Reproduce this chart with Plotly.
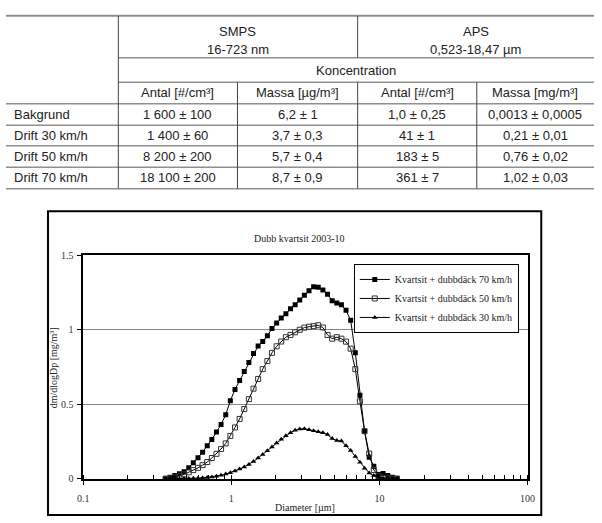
import plotly.graph_objects as go

# ---- table data ----
row_labels = ["Bakgrund", "Drift 30 km/h", "Drift 50 km/h", "Drift 70 km/h"]
instruments = ["SMPS<br>16-723 nm", "APS<br>0,523-18,47 µm"]
group_label = "Koncentration"
col_labels = ["Antal [#/cm³]", "Massa [µg/m³]", "Antal [#/cm³]", "Massa [mg/m³]"]
table_values = [
    ["1 600 ± 100", "6,2 ± 1", "1,0 ± 0,25", "0,0013 ± 0,0005"],
    ["1 400 ± 60", "3,7 ± 0,3", "41 ± 1", "0,21 ± 0,01"],
    ["8 200 ± 200", "5,7 ± 0,4", "183 ± 5", "0,76 ± 0,02"],
    ["18 100 ± 200", "8,7 ± 0,9", "361 ± 7", "1,02 ± 0,03"],
]

# ---- chart data ----
diameter = [0.360, 0.387, 0.416, 0.447, 0.480, 0.516, 0.554, 0.596, 0.640, 0.688,
            0.739, 0.794, 0.853, 0.917, 0.985, 1.059, 1.138, 1.223, 1.314, 1.412,
            1.517, 1.630, 1.752, 1.882, 2.023, 2.173, 2.336, 2.510, 2.697, 2.898,
            3.114, 3.347, 3.596, 3.864, 4.153, 4.462, 4.795, 5.153, 5.537, 5.950,
            6.394, 6.871, 7.383, 7.934, 8.526, 9.162, 9.845, 10.58, 11.37, 12.21, 13.13]
kv_70 = [0.005, 0.011, 0.022, 0.035, 0.048, 0.074, 0.109, 0.142, 0.179, 0.223,
         0.264, 0.314, 0.365, 0.43, 0.524, 0.60, 0.659, 0.72, 0.781, 0.84,
         0.891, 0.921, 0.96, 1.008, 1.045, 1.078, 1.107, 1.14, 1.168, 1.2,
         1.232, 1.262, 1.288, 1.285, 1.266, 1.238, 1.195, 1.18, 1.167, 1.13,
         1.063, 0.845, 0.56, 0.32, 0.145, 0.085, 0.03, 0.037, 0.022, 0.011, 0.005]
kv_50 = [0.0, 0.005, 0.011, 0.02, 0.03, 0.044, 0.059, 0.074, 0.092, 0.113,
         0.14, 0.168, 0.2, 0.238, 0.288, 0.345, 0.402, 0.468, 0.535, 0.605,
         0.67, 0.736, 0.79, 0.845, 0.889, 0.921, 0.95, 0.965, 0.983, 1.0,
         1.014, 1.02, 1.024, 1.03, 1.015, 0.965, 0.94, 0.95, 0.94, 0.92,
         0.873, 0.736, 0.52, 0.32, 0.17, 0.06, 0.02, 0.008, 0.004, 0.002, 0.001]
kv_30 = [0.0, 0.0, 0.001, 0.001, 0.002, 0.003, 0.004, 0.005, 0.007, 0.01,
         0.013, 0.018, 0.024, 0.032, 0.042, 0.053, 0.066, 0.08, 0.097, 0.117,
         0.14, 0.163, 0.188, 0.214, 0.24, 0.265, 0.29, 0.31, 0.326, 0.335,
         0.336, 0.33, 0.322, 0.316, 0.31, 0.298, 0.27, 0.258, 0.254, 0.222,
         0.19, 0.15, 0.112, 0.072, 0.04, 0.022, 0.011, 0.005, 0.002, 0.001, 0.0]

W, H = 602, 523


def px(x):
    return x / W


def py(y):
    return 1 - y / H


fig = go.Figure()

serif = "Liberation Serif"
sans = "Liberation Sans"

fig.add_trace(go.Scatter(x=diameter, y=kv_70, mode="lines+markers", name="Kvartsit + dubbdäck 70 km/h",
                         line=dict(color="black", width=1),
                         marker=dict(symbol="square", size=5, color="black")))
fig.add_trace(go.Scatter(x=diameter, y=kv_50, mode="lines+markers", name="Kvartsit + dubbdäck 50 km/h",
                         line=dict(color="black", width=1),
                         marker=dict(symbol="square-open", size=5, color="#333333")))
fig.add_trace(go.Scatter(x=diameter, y=kv_30, mode="lines+markers", name="Kvartsit + dubbdäck 30 km/h",
                         line=dict(color="black", width=1),
                         marker=dict(symbol="triangle-up", size=5, color="black")))

# ---- table grid ----
col_x = [0, 115, 237, 360, 482, 602]
row_y = [10, 53, 78, 100, 122, 143, 165, 187]
hcol = "#8f8f8f"
vcol = "#444444"
shapes = []
shapes.append(dict(type="line", xref="paper", yref="paper", x0=px(0), x1=px(W), y0=py(row_y[0]), y1=py(row_y[0]),
                   line=dict(color=hcol, width=2)))
for yy in row_y[1:3]:
    shapes.append(dict(type="line", xref="paper", yref="paper", x0=px(col_x[1]), x1=px(W), y0=py(yy), y1=py(yy),
                       line=dict(color=hcol, width=1.5)))
for yy in row_y[3:]:
    shapes.append(dict(type="line", xref="paper", yref="paper", x0=px(0), x1=px(W), y0=py(yy), y1=py(yy),
                       line=dict(color=hcol, width=1.5)))
shapes.append(dict(type="line", xref="paper", yref="paper", x0=px(col_x[1]), x1=px(col_x[1]),
                   y0=py(row_y[0]), y1=py(row_y[-1]), line=dict(color=vcol, width=1)))
shapes.append(dict(type="line", xref="paper", yref="paper", x0=px(col_x[3]), x1=px(col_x[3]),
                   y0=py(row_y[0]), y1=py(row_y[1]), line=dict(color=vcol, width=1)))
for xx in col_x[2:5]:
    shapes.append(dict(type="line", xref="paper", yref="paper", x0=px(xx), x1=px(xx),
                       y0=py(row_y[2]), y1=py(row_y[-1]), line=dict(color=vcol, width=1)))

# chart outer frame
shapes.append(dict(type="rect", xref="paper", yref="paper", x0=px(43), x1=px(548), y0=py(210), y1=py(521),
                   line=dict(color="black", width=2)))

ann = []
tfont = dict(family=sans, size=13, color="#222222")


def cell(x, y, text, anchor="center"):
    ann.append(dict(x=px(x), y=py(y), xref="paper", yref="paper", text=text, showarrow=False,
                    xanchor=anchor, yanchor="middle", font=tfont))


for i, name in enumerate(instruments):
    top, sub = name.split("<br>")
    xc = (col_x[1 + 2 * i] + col_x[3 + 2 * i]) / 2
    cell(xc, 26, top)
    cell(xc, 45, sub)
cell((col_x[1] + col_x[5]) / 2, 66, group_label)
for j, lab in enumerate(col_labels):
    cell((col_x[j + 1] + col_x[j + 2]) / 2, 89, lab)
for r, lab in enumerate(row_labels):
    yc = (row_y[r + 3] + row_y[r + 4]) / 2
    cell(6, yc, lab, anchor="left")
    for j, v in enumerate(table_values[r]):
        cell((col_x[j + 1] + col_x[j + 2]) / 2, yc, v)

cfont = dict(family=serif, size=10, color="#222222")
ann.append(dict(x=px(300), y=py(238), xref="paper", yref="paper", text="Dubb kvartsit 2003-10",
                showarrow=False, xanchor="center", yanchor="middle", font=cfont))
ann.append(dict(x=px(306), y=py(513), xref="paper", yref="paper", text="Diameter [µm]",
                showarrow=False, xanchor="center", yanchor="middle", font=cfont))
ann.append(dict(x=px(49), y=py(370), xref="paper", yref="paper", text="dm/dlogDp [mg/m³]",
                showarrow=False, xanchor="center", yanchor="middle", textangle=-90, font=cfont))

fig.update_layout(
    width=W, height=H,
    margin=dict(l=0, r=0, t=0, b=0),
    paper_bgcolor="white", plot_bgcolor="white",
    shapes=shapes, annotations=ann,
    showlegend=True,
    legend=dict(x=px(525), y=py(264), xanchor="right", yanchor="top",
                bgcolor="white", bordercolor="black", borderwidth=1,
                font=dict(family=serif, size=10, color="#222222"), itemwidth=30),
    xaxis=dict(type="log", range=[-1, 2], domain=[px(79), px(534)], dtick=1,
               showline=True, mirror=True, linecolor="black", linewidth=1.5,
               ticks="outside", ticklen=4, tickcolor="black", showgrid=False, zeroline=False,
               ticklabelstandoff=5,
               minor=dict(ticks="inside", ticklen=4, tickcolor="black", dtick="D1", showgrid=False),
               tickfont=dict(family=serif, size=10, color="#333333")),
    yaxis=dict(range=[0, 1.5], domain=[py(484), py(255)], dtick=0.5,
               showline=True, mirror=True, linecolor="black", linewidth=1.5,
               ticks="outside", ticklen=4, tickcolor="black", ticklabelstandoff=2,
               showgrid=True, gridcolor="#888888", gridwidth=1, zeroline=False,
               tickfont=dict(family=serif, size=10, color="#333333")),
)

fig.write_html("out.html", config={"displayModeBar": False},
               post_script="document.body.style.margin='0';document.body.style.overflow='hidden';")
